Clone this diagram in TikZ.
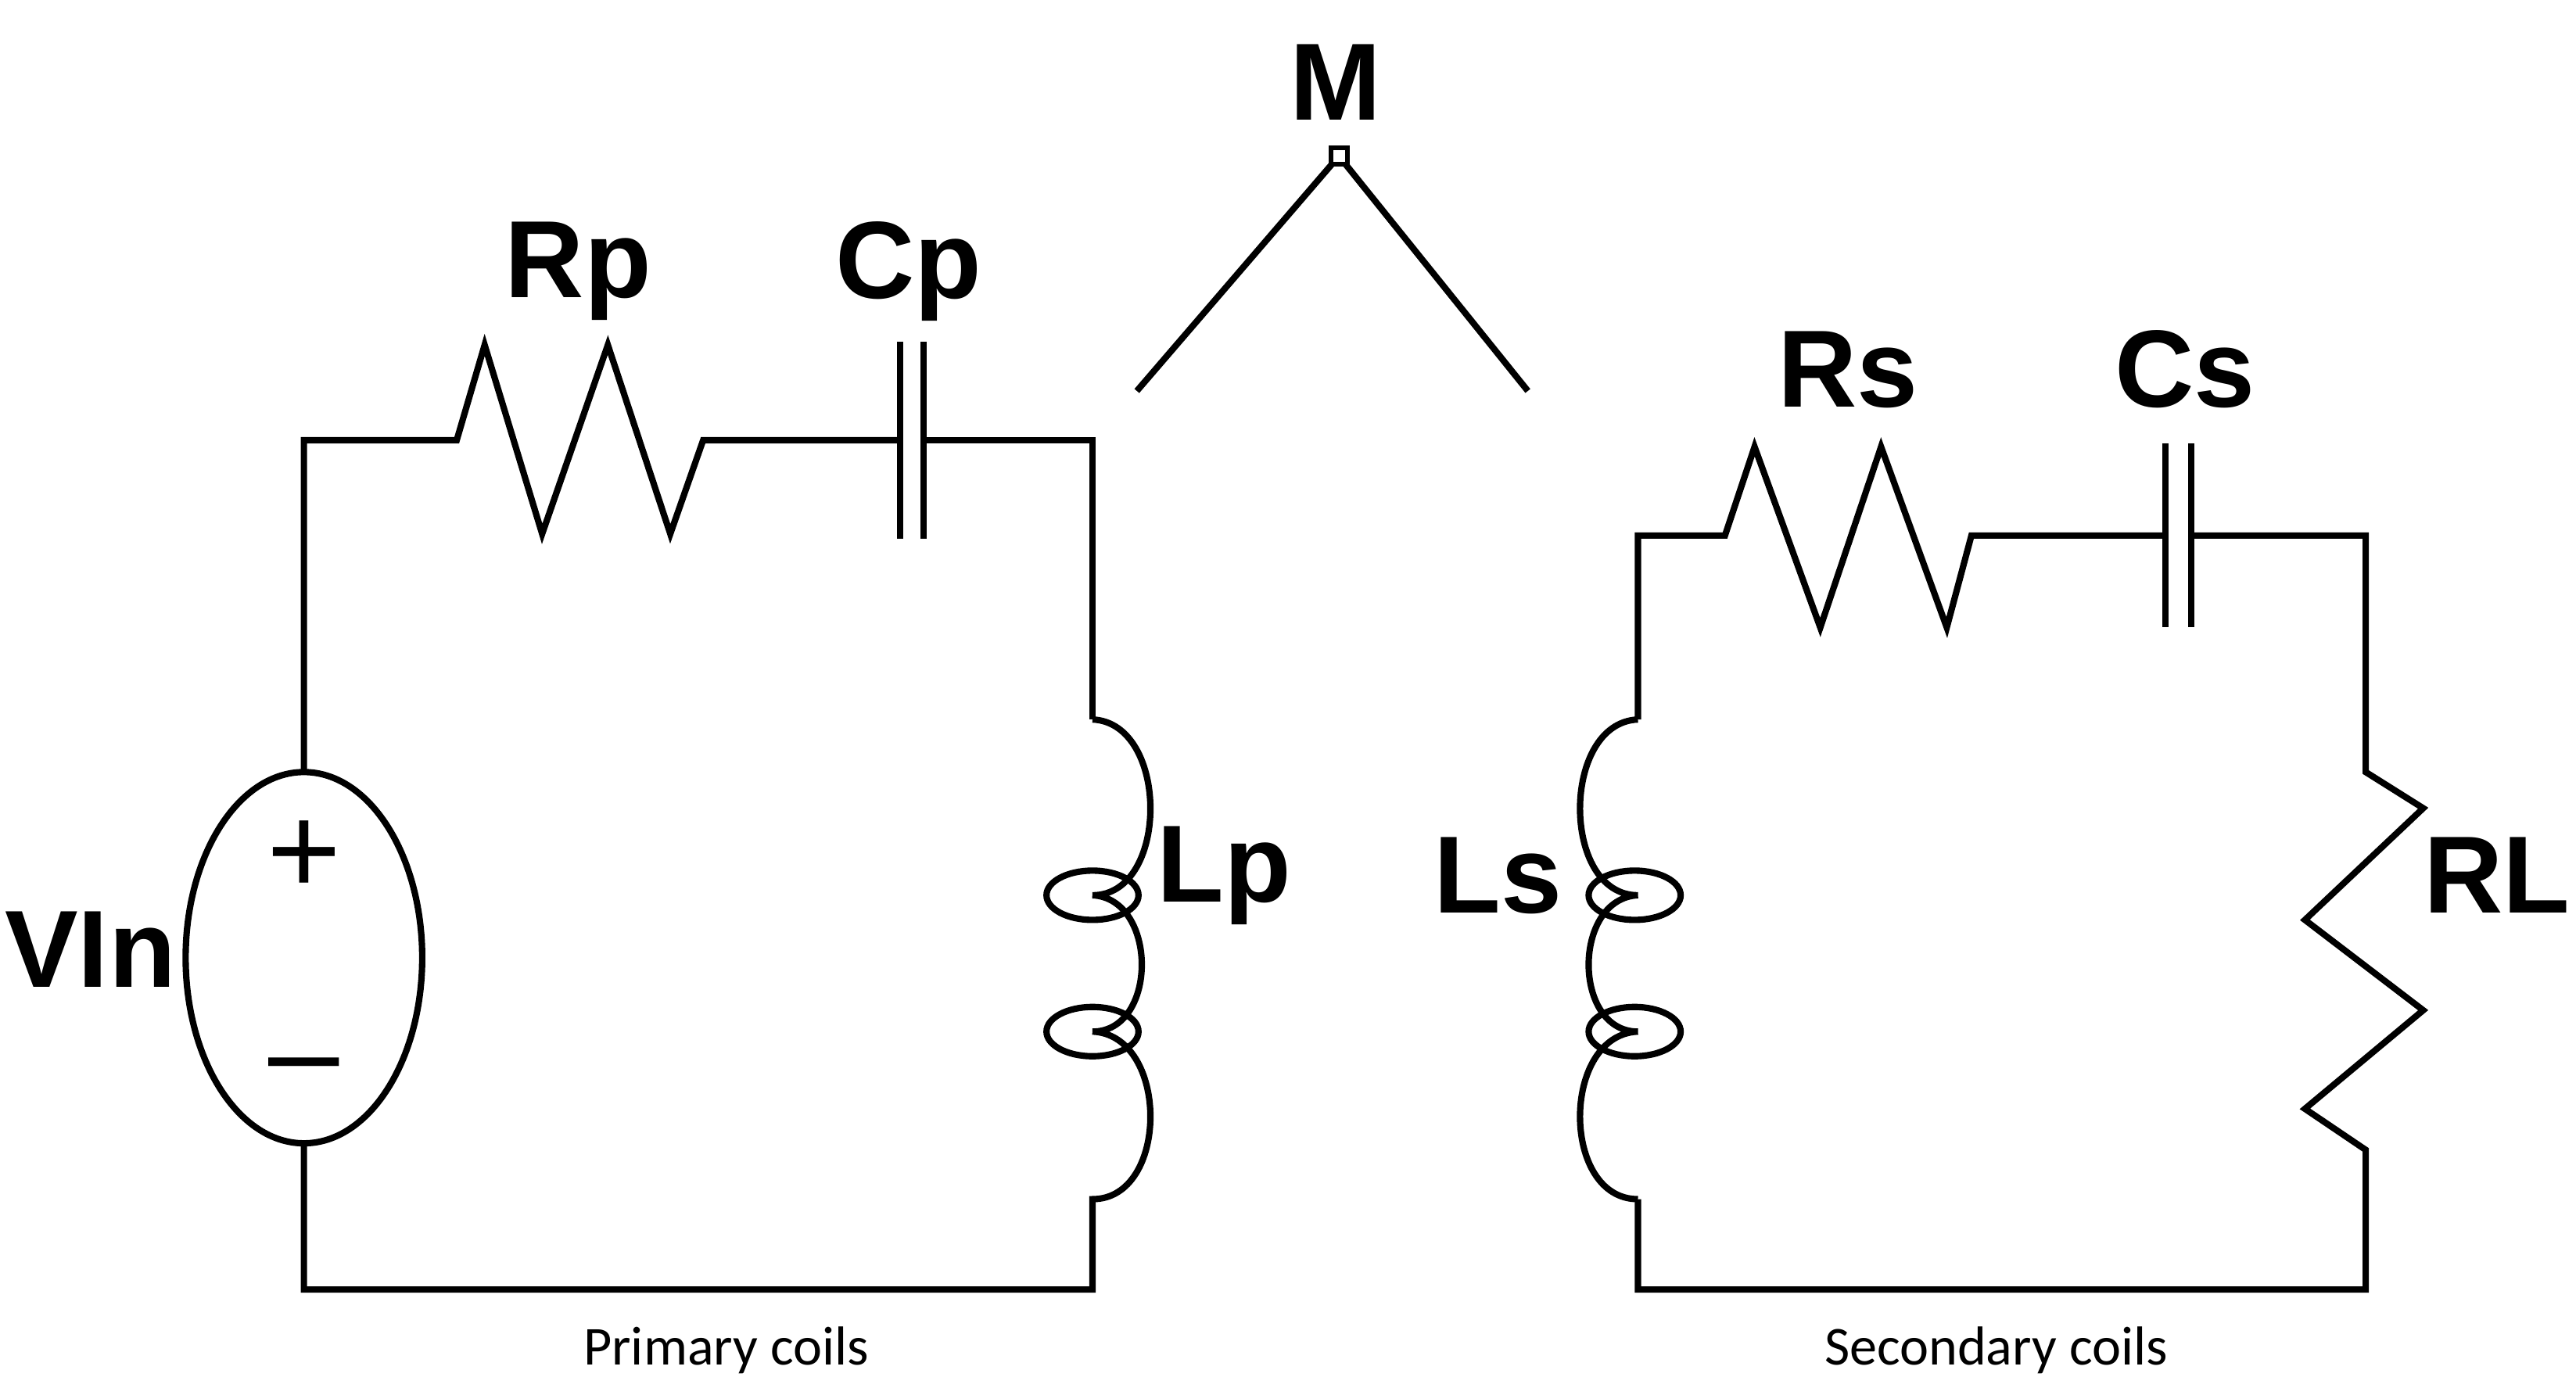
\documentclass[tikz,border=0pt]{standalone}
\usepackage{fontspec}
\setmainfont{Liberation Sans}
\newfontfamily\carlitofont{Carlito}
\begin{document}
\begin{tikzpicture}[x=0.01cm,y=-0.01cm,line width=1.1pt,
 lab/.style={font=\bfseries\fontsize{19}{19}\selectfont,inner sep=0pt},
 capt/.style={font=\carlitofont\fontsize{9.5}{10}\selectfont,inner sep=0pt}]
\useasboundingbox (0,0) rectangle (1568,849);
% primary
\coordinate (tl) at (185,268); \coordinate (bl) at (185,785);
\coordinate (tr) at (665,268); \coordinate (br) at (665,785);
\draw (185,583) ellipse [x radius=72,y radius=113];
\draw (185,470) -- (tl) -- (278,268) -- (295,210) -- (330,325) -- (370,210) -- (408,325) -- (428,268) -- (548,268);
\draw (548,208) -- (548,328) (562,208) -- (562,328);
\draw (562,268) -- (tr) -- (665,438);
\draw (665,438) .. controls (712,440) and (712,545) .. (665,545)
      .. controls (705,547) and (705,628) .. (665,628)
      .. controls (712,630) and (712,730) .. (665,730) -- (br) -- (bl) -- (185,696);
\draw (665,545) ellipse [x radius=28,y radius=15];
\draw (665,628) ellipse [x radius=28,y radius=15];
\node[font=\fontsize{22}{22}\selectfont] at (185,522) {+};
\node[font=\fontsize{22}{22}\selectfont] at (185,655) {--};
\node[lab] at (352,165) {Rp};
\node[lab] at (553,165) {Cp};
\node[lab] at (55,578) {VIn};
\node[lab] at (745,533) {Lp};
% M
\coordinate (m) at (815,95);
\draw (692,238) -- (m) -- (930,238);
\draw[fill=white,line width=0.8pt] (810,90) rectangle (820,100);
\node[lab] at (813,50) {M};
% secondary
\draw (997,438) -- (997,326) -- (1050,326) -- (1068,272) -- (1108,382) -- (1145,272) -- (1185,382) -- (1200,326) -- (1318,326);
\draw (1318,270) -- (1318,382) (1334,270) -- (1334,382);
\draw (1334,326) -- (1440,326) -- (1440,470) -- (1475,492) -- (1403,560) -- (1475,615) -- (1403,675) -- (1440,700) -- (1440,785) -- (997,785) -- (997,730);
\draw (997,438) .. controls (950,440) and (950,545) .. (997,545)
      .. controls (957,547) and (957,628) .. (997,628)
      .. controls (950,630) and (950,730) .. (997,730);
\draw (995,545) ellipse [x radius=28,y radius=15];
\draw (995,628) ellipse [x radius=28,y radius=15];
\node[lab] at (1125,225) {Rs};
\node[lab] at (1330,225) {Cs};
\node[lab] at (912,533) {Ls};
\node[lab] at (1520,533) {RL};
\node[capt] at (442,822) {Primary coils};
\node[capt] at (1215,822) {Secondary coils};
\end{tikzpicture}
\end{document}
